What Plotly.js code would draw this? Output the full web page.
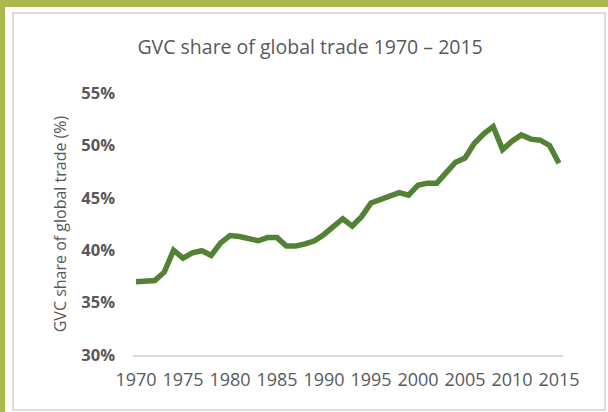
<!DOCTYPE html>
<html>
<head>
<meta charset="utf-8">
<script src="https://cdn.plot.ly/plotly-3.0.1.min.js"></script>
<style>
  html, body { margin: 0; padding: 0; background: #ffffff; }
  #wrap { position: relative; width: 608px; height: 412px; overflow: hidden; }
  .deco { position: absolute; }
  #chart { position: absolute; left: 0; top: 0; width: 608px; height: 412px; }
</style>
</head>
<body>
<div id="wrap">
  <div class="deco" style="left:0;top:0;width:608px;height:7px;background:#abb94a;"></div>
  <div class="deco" style="left:0;top:0;width:5px;height:412px;background:#abb94a;"></div>
  <div class="deco" style="left:12px;top:12px;width:590px;height:395px;border:2px solid #dcdcdc;"></div>
  <div id="chart"></div>
</div>
<script>
const years = [1970,1971,1972,1973,1974,1975,1976,1977,1978,1979,
               1980,1981,1982,1983,1984,1985,1986,1987,1988,1989,
               1990,1991,1992,1993,1994,1995,1996,1997,1998,1999,
               2000,2001,2002,2003,2004,2005,2006,2007,2008,2009,
               2010,2011,2012,2013,2014,2015];
const gvcShare = [37.0,37.0,37.1,37.9,40.0,39.25,39.75,39.95,39.5,40.7,
                  41.4,41.3,41.1,40.9,41.2,41.2,40.4,40.4,40.6,40.9,
                  41.5,42.2,43.0,42.3,43.2,44.5,44.85,45.25,45.5,45.25,
                  46.2,46.4,46.4,47.4,48.4,48.8,50.2,51.1,51.8,49.6,
                  50.4,51.0,50.6,50.5,50.0,48.3];
const xTicks = [1970,1975,1980,1985,1990,1995,2000,2005,2010,2015];
const yTicks = [30,35,40,45,50,55];
const yTickLabels = yTicks.map(v => v + '%');

const font = 'Open Sans, Calibri, sans-serif';
const grey = '#595959';

Plotly.newPlot('chart', [{
  x: years,
  y: gvcShare,
  type: 'scatter',
  mode: 'lines',
  line: { color: '#548235', width: 5.5 },
  hoverinfo: 'skip'
}], {
  width: 608, height: 412,
  margin: { l: 133, r: 45, t: 93, b: 57 },
  paper_bgcolor: 'rgba(0,0,0,0)',
  plot_bgcolor: 'rgba(0,0,0,0)',
  showlegend: false,
  title: {
    text: 'GVC share of global trade 1970 – 2015',
    font: { family: font, size: 19.5, color: grey },
    x: 0.51, xanchor: 'center',
    y: 1 - 47/412, yref: 'container', yanchor: 'middle'
  },
  xaxis: {
    range: [1969.68, 2015.43],
    tickvals: xTicks,
    ticktext: xTicks.map(String),
    showgrid: false, zeroline: false,
    showline: true, linecolor: '#d9d9d9', linewidth: 1.5,
    ticks: '', ticklabelstandoff: 8,
    tickfont: { family: font, size: 18, color: grey }
  },
  yaxis: {
    range: [30, 55],
    tickvals: yTicks,
    ticktext: yTickLabels,
    showgrid: false, zeroline: false, showline: false,
    ticks: '', ticklabelstandoff: 17,
    tickfont: { family: font, size: 16.5, color: grey, weight: 'bold' },
    title: {
      text: 'GVC share of global trade (%)',
      font: { family: font, size: 16, color: grey },
      standoff: 10
    }
  }
}, { displayModeBar: false, staticPlot: true });
</script>
</body>
</html>
